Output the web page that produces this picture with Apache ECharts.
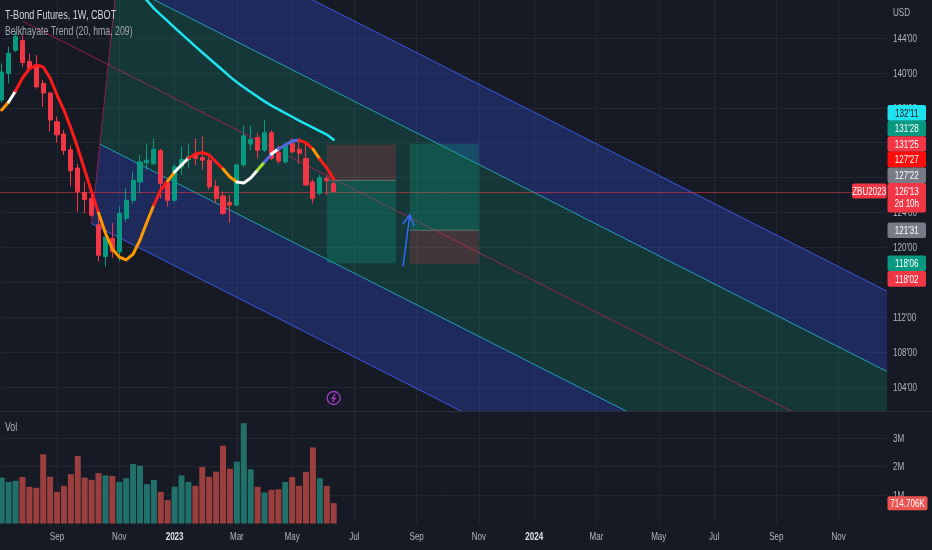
<!DOCTYPE html>
<html><head><meta charset="utf-8">
<script src="https://cdn.jsdelivr.net/npm/echarts@6/dist/echarts.min.js"></script>
<style>html,body{margin:0;padding:0;background:#161a25;}#c{width:932px;height:550px;}</style>
</head><body><div id="c"></div>
<script>
const FONT = "'Liberation Sans','Roboto',sans-serif";
const BG = '#161a25';
const startDate = Date.UTC(2022, 6, 11);
const weekCount = 129;
const monthNames = ['Jan','Feb','Mar','Apr','May','Jun','Jul','Aug','Sep','Oct','Nov','Dec'];

// weekly candles
const opens  = [136.9,139.95,142.6,143.7,141.3,140.8,138.8,137.7,134.4,133.0,131.2,129.1,126.3,125.6,122.6,118.95,121.05,119.5,123.3,125.4,127.5,129.7,129.6,131.1,127.4,125.4,129.25,130.1,130.6,130.3,130.0,127.0,125.9,125.15,124.85,129.45,131.85,132.6,131.15,133.15,130.85,129.8,131.9,131.25,130.2,127.5,126.2,127.9,127.3];
const highs  = [141.1,143.0,144.7,144.3,142.2,142.05,139.2,137.85,135.0,133.45,131.7,129.6,127.5,126.2,123.7,122.0,122.8,124.7,126.8,128.7,130.6,131.9,132.5,131.3,127.6,129.6,131.55,131.9,132.5,132.7,130.4,127.7,126.4,126.0,129.6,134.0,134.0,133.1,134.6,133.45,131.7,132.1,132.5,132.4,131.9,127.8,128.3,128.2,127.6];
const lows   = [136.6,138.8,142.4,140.7,140.4,138.2,136.1,133.3,132.0,130.6,127.0,124.1,123.9,123.5,118.4,117.8,118.8,118.4,122.95,125.05,126.2,128.9,129.45,125.6,124.7,125.2,128.3,129.1,129.45,128.9,126.6,125.05,123.7,122.8,124.7,129.25,131.15,130.2,130.95,130.0,129.6,129.6,130.75,129.6,127.05,125.05,126.0,126.0,126.3];
const closes = [140.1,142.25,144.15,141.2,140.5,138.4,137.7,134.6,132.9,131.1,128.8,126.4,125.5,123.7,119.1,121.2,119.5,123.9,125.4,127.7,129.8,130.0,131.25,127.35,125.4,129.25,130.1,130.4,130.2,130.0,126.95,125.6,123.9,124.85,129.45,132.8,132.4,131.15,133.15,130.2,129.9,131.7,130.95,130.8,127.15,125.6,128.0,127.65,126.40625];
const volumes = [1.61,1.46,1.50,1.63,1.29,1.25,2.43,1.64,1.11,1.32,1.73,2.37,1.61,1.53,1.77,1.69,1.67,1.46,1.59,2.09,2.03,1.38,1.53,1.11,0.82,1.29,1.69,1.46,1.32,1.98,1.64,1.82,2.73,1.92,2.17,3.52,1.90,1.29,1.09,1.18,1.20,1.46,1.63,1.32,1.81,2.67,1.59,1.32,0.714706];

// HMA trend line (Belkhayate) and segment colours
const hmaValues = [135.75,136.66,137.93,139.42,140.45,140.91,140.68,139.42,137.47,135.75,133.68,131.39,128.87,126.35,123.94,121.65,119.82,118.90,118.56,119.24,120.85,122.91,124.86,126.58,127.61,128.64,129.44,130.25,130.70,130.88,130.59,129.79,128.99,128.07,127.50,127.38,127.95,128.87,129.79,130.70,131.28,131.74,132.19,132.31,131.97,131.28,130.13,129.10,127.84375];
const hmaSegmentColors = 'owrrrrrrrrrrrroooooooorrowwrrrrroowwwgbwbbbrrorr'.split('');
const hmaPalette = {r:'#ff1a1a', o:'#ff9800', w:'#ffffff', b:'#5468e0', g:'#a6e22e'};

// long moving average (cyan), starting at week 20
const maStart = 20;
const maValues = [149.16,148.30,147.40,146.66,145.93,145.20,144.47,143.76,143.05,142.34,141.66,140.97,140.28,139.58,138.93,138.37,137.82,137.28,136.74,136.25,135.83,135.40,134.98,134.54,134.14,133.74,133.34,132.94,132.34375];

// regression channel: centre line end points, band offsets, slanted start edge
const channelCenter = [[3, 145.94], [128, 95.68]];
const channelOffsets = [19.3, 10.1, 0, -9.6, -19.2];
const channelEdge = [[13.0, 122.8], [16.37, 148.36]];
const channelFills = ['rgba(49,79,220,0.30)', 'rgba(22,158,121,0.22)', 'rgba(22,158,121,0.22)', 'rgba(49,79,220,0.30)'];
const channelLineColors = ['rgba(70,95,250,0.85)', 'rgba(38,198,218,0.75)', 'rgba(233,30,99,0.6)', 'rgba(38,198,218,0.75)', 'rgba(70,95,250,0.85)'];

// position tools
const boxFrom   = [47, 59];
const boxTo     = [57, 69];
const boxEntry  = [127.6875, 121.96875];
const boxTarget = [118.1875, 131.875];
const boxStop   = [131.78125, 118.0625];

// arrow drawing
const arrowFrom = [58.03, 117.87];
const arrowTo   = [59.0, 123.71];

// axes
const priceTicks = [104,108,112,116,120,124,128,132,136,140,144];
const volumeTicks = [1e6, 2e6, 3e6];

// price scale badges
const lastPrice = 126.40625;
const badgePrices = [132.34375, 131.875, 131.78125, 127.84375, 127.6875, 121.96875, 118.1875, 118.0625];
const badgeColors = ['#1fe3ee', '#089981', '#f23645', '#ff0d0d', '#787b86', '#787b86', '#089981', '#f23645'];
const badgeTextColors = ['#131722', '#ffffff', '#ffffff', '#ffffff', '#ffffff', '#ffffff', '#ffffff', '#ffffff'];

const dates = [];
for (let i = 0; i < weekCount; i++) {
  const d = new Date(startDate + i * 7 * 86400000);
  dates.push(d.toISOString().slice(0, 10));
}
function isLabelWeek(v) {
  const d = new Date(v + 'T00:00:00Z');
  return d.getUTCDate() <= 7 && d.getUTCMonth() % 2 === 0;
}
function isYearWeek(v) { return new Date(v + 'T00:00:00Z').getUTCMonth() === 0; }
function labelText(v) {
  const d = new Date(v + 'T00:00:00Z');
  return d.getUTCMonth() === 0 ? String(d.getUTCFullYear()) : monthNames[d.getUTCMonth()];
}
function fmt32(v) {
  const w = Math.floor(v + 1e-9);
  let t = Math.round((v - w) * 32);
  return w + "'" + (t < 10 ? '0' + t : t);
}

const candleData = opens.map((o, i) => [o, closes[i], lows[i], highs[i]]);
const volUp = '#22706a', volDown = '#9a3e3e';
const volData = volumes.map((v, i) => ({value: v * 1e6, itemStyle: {color: closes[i] >= opens[i] ? volUp : volDown}}));

function P(api, f, p) {
  const a = api.coord([0, p]);
  const b = api.coord([1, p]);
  return [a[0] + (b[0] - a[0]) * f, a[1]];
}
function clipOf(params) {
  const cs = params.coordSys;
  return {type: 'rect', shape: {x: cs.x, y: cs.y, width: cs.width, height: cs.height}};
}

const hmaSeries = [];
{
  let s = 0;
  for (let j = 1; j <= hmaSegmentColors.length; j++) {
    if (j === hmaSegmentColors.length || hmaSegmentColors[j] !== hmaSegmentColors[s]) {
      const data = new Array(weekCount).fill(null);
      for (let k = s; k <= j; k++) data[k] = hmaValues[k];
      hmaSeries.push({
        type: 'line', xAxisIndex: 0, yAxisIndex: 0, data, showSymbol: false, z: 5,
        lineStyle: {color: hmaPalette[hmaSegmentColors[s]], width: 3, cap: 'round', join: 'round'},
        silent: true
      });
      s = j;
    }
  }
}
const maData = new Array(weekCount).fill(null);
maValues.forEach((v, k) => { maData[maStart + k] = v; });

const gridLine = '#232734';

const chart = echarts.init(document.getElementById('c'), null, {renderer: 'canvas'});
const option = {
  backgroundColor: BG,
  animation: false,
  grid: [
    {left: 1.7, right: 45, top: 0, height: 411},
    {left: 1.7, right: 45, top: 412, bottom: 26.5}
  ],
  xAxis: [
    {type: 'category', gridIndex: 0, data: dates, boundaryGap: false,
     axisLine: {show: false}, axisTick: {show: false}, axisLabel: {show: false},
     splitLine: {show: true, interval: (i, v) => isLabelWeek(v), lineStyle: {color: gridLine}}},
    {type: 'category', gridIndex: 1, data: dates, boundaryGap: false,
     axisLine: {show: false}, axisTick: {show: false}, axisLabel: {show: false},
     splitLine: {show: true, interval: (i, v) => isLabelWeek(v), lineStyle: {color: gridLine}}}
  ],
  yAxis: [
    {type: 'value', gridIndex: 0, position: 'right', min: 101.25, max: 148.36, scale: true,
     axisLine: {show: false},
     axisTick: {show: false, customValues: priceTicks},
     axisLabel: {show: false, customValues: priceTicks},
     splitLine: {show: true, lineStyle: {color: gridLine}}},
    {type: 'value', gridIndex: 1, position: 'right', min: 0, max: 3.912e6,
     axisLine: {show: false},
     axisTick: {show: false, customValues: volumeTicks},
     axisLabel: {show: false, customValues: volumeTicks},
     splitLine: {show: true, lineStyle: {color: gridLine}}}
  ],
  series: [
    {
      type: 'custom', name: 'channel', xAxisIndex: 0, yAxisIndex: 0, z: 1, silent: true,
      data: [[0, 120]],
      renderItem(params, api) {
        const c0 = channelCenter[0], c1 = channelCenter[1];
        const sC = (c1[1] - c0[1]) / (c1[0] - c0[0]);
        const e0 = channelEdge[0], e1 = channelEdge[1];
        const sE = (e1[1] - e0[1]) / (e1[0] - e0[0]);
        const lineAt = (k, f) => c0[1] + sC * (f - c0[0]) + channelOffsets[k];
        const startOf = k => (c0[1] - sC * c0[0] + channelOffsets[k] - (e0[1] - sE * e0[0])) / (sE - sC);
        const endF = c1[0];
        const children = [];
        for (let k = 0; k < channelOffsets.length - 1; k++) {
          const a = startOf(k), b = startOf(k + 1);
          children.push({type: 'polygon', shape: {points: [P(api, a, lineAt(k, a)), P(api, endF, lineAt(k, endF)), P(api, endF, lineAt(k + 1, endF)), P(api, b, lineAt(k + 1, b))]},
            style: {fill: channelFills[k]}});
        }
        for (let k = 0; k < channelOffsets.length; k++) {
          const a = channelOffsets[k] === 0 ? c0[0] : startOf(k);
          children.push({type: 'polyline', shape: {points: [P(api, a, lineAt(k, a)), P(api, endF, lineAt(k, endF))]},
            style: {stroke: channelLineColors[k], lineWidth: 1, fill: null}});
        }
        const ea = startOf(channelOffsets.length - 1), eb = startOf(0);
        children.push({type: 'polyline', shape: {points: [P(api, ea, lineAt(channelOffsets.length - 1, ea)), P(api, eb, lineAt(0, eb))]},
          style: {stroke: 'rgba(233,30,99,0.55)', lineWidth: 1, fill: null}});
        return {type: 'group', children, clipPath: clipOf(params)};
      }
    },
    {
      type: 'custom', name: 'lastPriceLine', xAxisIndex: 0, yAxisIndex: 0, z: 2, silent: true,
      data: [[0, lastPrice]],
      renderItem(params, api) {
        const cs = params.coordSys;
        const y = Math.round(api.coord([0, lastPrice])[1]) + 0.5;
        return {type: 'line', shape: {x1: cs.x - 2, y1: y, x2: cs.x + cs.width, y2: y}, style: {stroke: 'rgba(242,54,69,0.55)', lineWidth: 1}};
      }
    },
    {
      type: 'custom', name: 'positions', xAxisIndex: 0, yAxisIndex: 0, z: 2, silent: true,
      data: boxFrom.map((f, i) => [f, boxEntry[i]]),
      renderItem(params, api) {
        const i = params.dataIndex;
        const a = P(api, boxFrom[i], boxEntry[i]);
        const b = P(api, boxTo[i], boxEntry[i]);
        const yt = api.coord([0, boxTarget[i]])[1];
        const ys = api.coord([0, boxStop[i]])[1];
        const ye = a[1];
        const w = b[0] - a[0];
        return {type: 'group', children: [
          {type: 'rect', shape: {x: a[0], y: Math.min(ye, yt), width: w, height: Math.abs(yt - ye)}, style: {fill: 'rgba(8,170,135,0.26)'}},
          {type: 'rect', shape: {x: a[0], y: Math.min(ye, ys), width: w, height: Math.abs(ys - ye)}, style: {fill: 'rgba(242,54,69,0.2)'}},
          {type: 'line', shape: {x1: a[0], y1: ye, x2: b[0], y2: ye}, style: {stroke: 'rgba(140,150,160,0.55)', lineWidth: 1}}
        ]};
      }
    },
    {
      type: 'candlestick', name: 'ZBU2023', xAxisIndex: 0, yAxisIndex: 0, z: 3, clip: false,
      data: candleData, barWidth: 4.6,
      itemStyle: {color: '#089981', color0: '#f23645', borderColor: '#089981', borderColor0: '#f23645', borderWidth: 1}
    },
    ...hmaSeries,
    {
      type: 'line', name: 'MA', xAxisIndex: 0, yAxisIndex: 0, z: 5, data: maData, showSymbol: false, silent: true,
      lineStyle: {color: '#1de4f0', width: 2.5, cap: 'round'}
    },
    {
      type: 'custom', name: 'arrow', xAxisIndex: 0, yAxisIndex: 0, z: 6, silent: true,
      data: [arrowTo],
      renderItem(params, api) {
        const s = P(api, arrowFrom[0], arrowFrom[1]);
        const t = P(api, arrowTo[0], arrowTo[1]);
        const dx = s[0] - t[0], dy = s[1] - t[1];
        const len = Math.hypot(dx, dy);
        const ux = dx / len, uy = dy / len;
        const L = 11, ang = Math.PI / 6;
        const rot = (x, y, a) => [x * Math.cos(a) - y * Math.sin(a), x * Math.sin(a) + y * Math.cos(a)];
        const h1 = rot(ux, uy, ang), h2 = rot(ux, uy, -ang);
        const st = {stroke: '#2f6bff', lineWidth: 1.5, fill: null, lineCap: 'round'};
        return {type: 'group', children: [
          {type: 'polyline', shape: {points: [s, t]}, style: st},
          {type: 'polyline', shape: {points: [[t[0] + h1[0] * L, t[1] + h1[1] * L], t, [t[0] + h2[0] * L, t[1] + h2[1] * L]]}, style: st}
        ]};
      }
    },
    {
      type: 'bar', name: 'Vol', xAxisIndex: 1, yAxisIndex: 1, data: volData, barWidth: 6, clip: false, silent: true
    }
  ]
};
chart.setOption(option);

// graphic overlays: texts (horizontally condensed like the source), separators, price-scale badges
const SX = 0.7;
const g = [];
const txt = (x, y, text, fill, size, align, weight, z) => ({
  type: 'text', x, y, z: z || 100, scaleX: SX,
  style: {text, fill, font: (weight || 'normal') + ' ' + size + 'px ' + FONT,
    align: align || 'left', verticalAlign: 'middle', textAlign: align || 'left', textVerticalAlign: 'middle'}
});
g.push({type: 'rect', shape: {x: 0, y: 411, width: 932, height: 1}, style: {fill: '#2a2e39'}, z: 90});
g.push(txt(5, 15, 'T-Bond Futures, 1W, CBOT', '#d1d4dc', 13));
g.push(txt(5, 32, 'Belkhayate Trend (20, hma, 209)', '#a3a6af', 12.5));
g.push(txt(5, 428, 'Vol', '#b2b5be', 12.5));
g.push(txt(893, 13, 'USD', '#b2b5be', 11.5));

// axis tick labels placed through the axes' own scales (drawn below the badges)
priceTicks.forEach(p => {
  const y = chart.convertToPixel({yAxisIndex: 0}, p);
  g.push(txt(893, y + 0.5, fmt32(p), '#b2b5be', 11.5, 'left', 'normal', 92));
});
volumeTicks.forEach(v => {
  const y = chart.convertToPixel({yAxisIndex: 1}, v);
  g.push(txt(893, y + 0.5, Math.round(v / 1e6) + 'M', '#b2b5be', 11.5, 'left', 'normal', 92));
});
dates.forEach(d => {
  if (!isLabelWeek(d)) return;
  const x = chart.convertToPixel({xAxisIndex: 1}, d);
  const yr = isYearWeek(d);
  g.push(txt(x, 537, labelText(d), yr ? '#e0e3eb' : '#b2b5be', 11.5, 'center', yr ? 'bold' : 'normal', 92));
});

const bx = 887.5, bw = 38.5, bh = 15.6;
const yOf = p => chart.convertToPixel({yAxisIndex: 0}, p);
const mainY = yOf(lastPrice);
const mainTop = mainY - 8.5, mainBottom = mainY + 21;
const above = [], below = [];
badgePrices.forEach((p, i) => { (p > lastPrice ? above : below).push(i); });
above.sort((a, b) => badgePrices[a] - badgePrices[b]);
below.sort((a, b) => badgePrices[b] - badgePrices[a]);
const badgeY = {};
let edge = mainTop;
above.forEach(i => { const c = Math.min(yOf(badgePrices[i]), edge - bh / 2); badgeY[i] = c; edge = c - bh / 2; });
edge = mainBottom;
below.forEach(i => { const c = Math.max(yOf(badgePrices[i]), edge + bh / 2); badgeY[i] = c; edge = c + bh / 2; });
badgePrices.forEach((p, i) => {
  const c = badgeY[i];
  g.push({type: 'rect', z: 98, shape: {x: bx, y: c - bh / 2, width: bw, height: bh, r: 2}, style: {fill: badgeColors[i]}});
  g.push(txt(bx + bw / 2, c + 0.5, fmt32(p), badgeTextColors[i], 11.5, 'center'));
});
g.push({type: 'rect', z: 98, shape: {x: bx, y: mainTop, width: bw, height: mainBottom - mainTop, r: 2}, style: {fill: '#f23645'}});
g.push(txt(bx + bw / 2, mainY + 0.5, fmt32(lastPrice), '#ffffff', 11.5, 'center'));
g.push(txt(bx + bw / 2, mainY + 12.5, '2d 10h', '#ffffff', 11.5, 'center'));
g.push({type: 'rect', z: 98, shape: {x: 852, y: mainY - 8, width: 34.5, height: 15, r: 2}, style: {fill: '#f23645'}});
g.push(txt(869.2, mainY + 0.5, 'ZBU2023', '#ffffff', 11.5, 'center'));

// volume badge
const vy = chart.convertToPixel({yAxisIndex: 1}, volumes[volumes.length - 1] * 1e6);
g.push({type: 'rect', z: 98, shape: {x: bx, y: vy - 7, width: 40, height: 14, r: 2}, style: {fill: '#ef5350'}});
g.push(txt(bx + 20, vy + 0.5, '714.706K', '#ffffff', 11.5, 'center'));

// event marker under the last bar
const lx = chart.convertToPixel({xAxisIndex: 0}, dates[closes.length - 1]);
g.push({type: 'group', x: lx, y: 398, z: 100, children: [
  {type: 'circle', shape: {cx: 0, cy: 0, r: 6.5}, style: {fill: BG, stroke: '#a33ccf', lineWidth: 1.3}},
  {type: 'polyline', shape: {points: [[1.6, -4], [-1.6, 0.6], [1.6, 0.2], [-1.4, 4.2]]}, style: {stroke: '#a33ccf', lineWidth: 1.2, fill: null}}
]});
chart.setOption({graphic: g});
</script>
</body></html>
